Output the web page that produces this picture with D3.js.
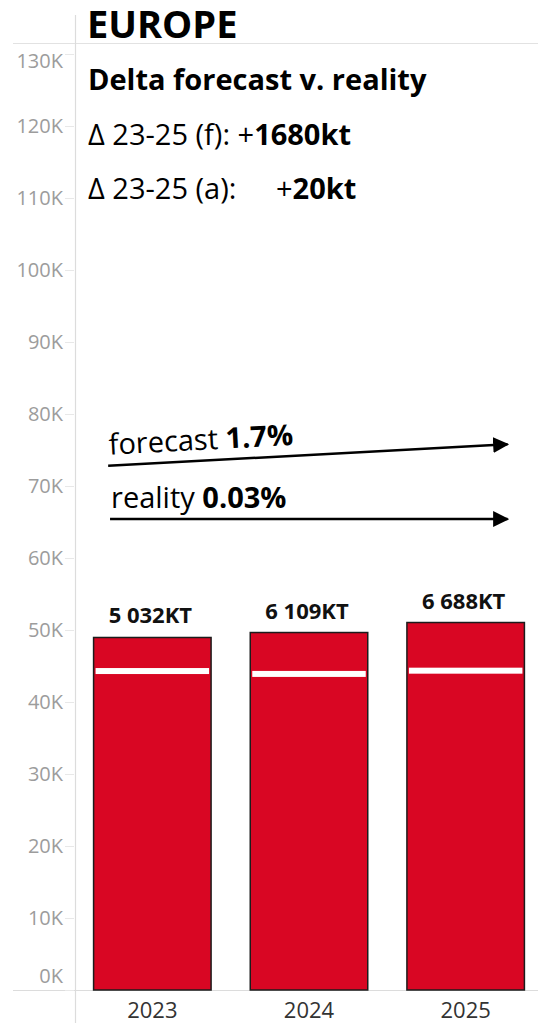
<!DOCTYPE html>
<html><head><meta charset="utf-8">
<script src="https://cdn.jsdelivr.net/npm/d3@7"></script>
<style>
html,body{margin:0;padding:0;background:#fff;}
svg{display:block;font-family:"Open Sans",sans-serif;}
</style></head>
<body>
<svg id="chart" width="538" height="1023"></svg>
<script>
// ---- data ----
const years = ["2023", "2024", "2025"];
const barValues = [48960, 49650, 51040];
const markerValues = [44300, 43900, 44350];
const barLabels = ["5 032KT", "6 109KT", "6 688KT"];
const yTickValues = [0,10000,20000,30000,40000,50000,60000,70000,80000,90000,100000,110000,120000,130000];
const yTickLabels = ["0K","10K","20K","30K","40K","50K","60K","70K","80K","90K","100K","110K","120K","130K"];
const titleText = "EUROPE";
const subtitleText = "Delta forecast v. reality";
const deltaForecastLabel = "Δ 23-25 (f): +";
const deltaForecastValue = "1680kt";
const deltaActualLabel = "Δ 23-25 (a):";
const deltaActualValue = "20kt";
// trend arrows: [band position, value] start and end
const arrowNames = ["forecast", "reality"];
const arrowValues = ["1.7%", "0.03%"];
const arrowStart = [[0.218, 72800], [0.23, 65400]];
const arrowEnd = [[2.78, 75800], [2.78, 65400]];

// ---- layout ----
const svg = d3.select("#chart");
const y = d3.scaleLinear().domain([0, 130000]).range([990, 54]);
const x = d3.scaleBand().domain(years).range([74, 544]).paddingInner(0.25).paddingOuter(0.125);
const xa = d3.scaleLinear().domain([0, 3]).range([74, 544]);

// grid frame lines
svg.append("line").attr("x1", 13).attr("x2", 538).attr("y1", 43.5).attr("y2", 43.5)
  .attr("stroke", "#e2e2e2").attr("stroke-width", 1.2);
svg.append("line").attr("x1", 13).attr("x2", 538).attr("y1", 990.5).attr("y2", 990.5)
  .attr("stroke", "#dcdcdc").attr("stroke-width", 1.2);
svg.append("line").attr("x1", 75.5).attr("x2", 75.5).attr("y1", 15).attr("y2", 1023)
  .attr("stroke", "#dcdcdc").attr("stroke-width", 1.2);

// y axis
const yAxis = d3.axisLeft(y).tickValues(yTickValues).tickSize(9).tickPadding(2)
  .tickFormat((d, i) => yTickLabels[i]);
const gy = svg.append("g").attr("transform", "translate(74,0)").call(yAxis);
gy.select(".domain").remove();
gy.selectAll(".tick line").attr("stroke", "#e8e8e8");
gy.selectAll(".tick text")
  .attr("fill", "#9c9c9c").attr("font-size", 20).attr("font-family", "Open Sans")
  .attr("font-weight", 400)
  .attr("dy", d => d === 0 ? "-0.4em" : (d === 130000 ? "0.68em" : "0.34em"));

// bars
const bars = svg.append("g");
bars.selectAll("rect.bar").data(barValues).join("rect").attr("class", "bar")
  .attr("x", (d, i) => x(years[i]))
  .attr("width", x.bandwidth())
  .attr("y", d => y(d))
  .attr("height", d => y(0) - y(d))
  .attr("fill", "#d90623").attr("stroke", "#1c1c1c").attr("stroke-width", 1.5);

bars.selectAll("rect.marker").data(markerValues).join("rect").attr("class", "marker")
  .attr("x", (d, i) => x(years[i]) + 2)
  .attr("width", x.bandwidth() - 4)
  .attr("y", d => y(d) - 3)
  .attr("height", 6)
  .attr("fill", "#ffffff");

bars.selectAll("text.vlabel").data(barLabels).join("text").attr("class", "vlabel")
  .attr("x", (d, i) => x(years[i]) + x.bandwidth() / 2 - 2)
  .attr("y", (d, i) => y(barValues[i]) - 14)
  .attr("text-anchor", "middle").attr("font-size", 22).attr("font-weight", 700)
  .attr("fill", "#111").text(d => d);

// x axis labels
const xAxis = d3.axisBottom(x).tickSize(0).tickPadding(12);
const gx = svg.append("g").attr("transform", "translate(0,990)").call(xAxis);
gx.select(".domain").remove();
gx.selectAll(".tick text").attr("font-size", 22).attr("fill", "#333").attr("font-family", "Open Sans");

// header texts
svg.append("text").attr("x", 87).attr("y", 37.5).attr("font-size", 38).attr("font-weight", 700)
  .attr("fill", "#000").text(titleText);
svg.append("text").attr("x", 88).attr("y", 90).attr("font-size", 29).attr("font-weight", 700)
  .attr("fill", "#000").text(subtitleText);
const t1 = svg.append("text").attr("x", 88).attr("y", 145).attr("font-size", 29).attr("fill", "#000");
t1.append("tspan").text(deltaForecastLabel);
t1.append("tspan").attr("font-weight", 700).text(deltaForecastValue);
const t2 = svg.append("text").attr("x", 88).attr("y", 199).attr("font-size", 29).attr("fill", "#000");
t2.append("tspan").text(deltaActualLabel);
t2.append("tspan").attr("x", 276).text("+");
t2.append("tspan").attr("font-weight", 700).text(deltaActualValue);

// arrows
const defs = svg.append("defs");
defs.append("marker").attr("id", "arrowhead").attr("viewBox", "0 0 10 10")
  .attr("refX", 9).attr("refY", 5).attr("markerWidth", 6.4).attr("markerHeight", 6.8)
  .attr("markerUnits", "strokeWidth").attr("orient", "auto")
  .append("path").attr("d", "M0,0 L10,5 L0,10 Z").attr("fill", "#000");

const ag = svg.append("g");
arrowNames.forEach((name, i) => {
  const x1 = xa(arrowStart[i][0]), y1 = y(arrowStart[i][1]);
  const x2 = xa(arrowEnd[i][0]), y2 = y(arrowEnd[i][1]);
  ag.append("line").attr("x1", x1).attr("y1", y1).attr("x2", x2 - 2).attr("y2", y2)
    .attr("stroke", "#000").attr("stroke-width", 2.5).attr("marker-end", "url(#arrowhead)");
  const ang = Math.atan2(y2 - y1, x2 - x1) * 180 / Math.PI;
  const tx = x1 + 1, ty = y1 - 11;
  const t = ag.append("text").attr("x", tx).attr("y", ty).attr("font-size", 29).attr("fill", "#000")
    .attr("transform", `rotate(${ang},${tx},${ty})`);
  t.append("tspan").text(name + " ");
  t.append("tspan").attr("font-weight", 700).text(arrowValues[i]);
});
</script>
</body></html>
